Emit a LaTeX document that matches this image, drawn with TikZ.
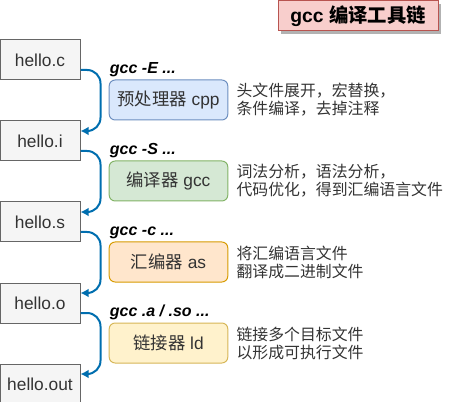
\documentclass[tikz,border=0pt]{standalone}
\usepackage{fontspec}
\setmainfont{Liberation Sans}
\newfontfamily\cjk{Noto Sans CJK SC}
\usetikzlibrary{positioning,arrows.meta,shadows}

\definecolor{filebg}{HTML}{F5F5F5}
\definecolor{fileline}{HTML}{666666}
\definecolor{filetext}{HTML}{333333}
\definecolor{flowblue}{HTML}{006EAF}
\definecolor{cppbg}{HTML}{DAE8FC}
\definecolor{cppline}{HTML}{6C8EBF}
\definecolor{ccbg}{HTML}{D5E8D4}
\definecolor{ccline}{HTML}{82B366}
\definecolor{asbg}{HTML}{FFE6CC}
\definecolor{asline}{HTML}{D79B00}
\definecolor{ldbg}{HTML}{FFF2CC}
\definecolor{ldline}{HTML}{D6B656}
\definecolor{titlebg}{HTML}{F8CECC}
\definecolor{titleline}{HTML}{B85450}

\tikzset{
  file/.style={draw=fileline, fill=filebg, text=filetext, line width=0.75pt,
    minimum width=60pt, minimum height=30pt, inner sep=0pt,
    font=\fontsize{13}{15}\selectfont},
  tool/.style={rounded corners=4.5pt, line width=0.75pt, minimum width=89pt,
    minimum height=30pt, inner sep=0pt, text=black!80,
    font=\fontsize{13}{15}\selectfont},
  cmd/.style={anchor=base west, inner sep=0pt,
    font=\bfseries\itshape\fontsize{12}{14}\selectfont},
  note/.style={anchor=west, align=left, inner sep=0pt, text=black!80,
    font=\cjk\fontsize{11.9}{13.5}\selectfont},
  flow/.style={draw=flowblue, line width=1.5pt, rounded corners=10pt,
    -{Latex[length=6pt,width=6.5pt]}},
}

\begin{document}
\begin{tikzpicture}[x=0.75pt, y=-0.75pt]
    \useasboundingbox (0, 0) rectangle (456, 402);

    \node[draw=titleline, fill=titlebg, line width=0.75pt, minimum width=120pt,
      minimum height=22.5pt, inner sep=0pt,
      drop shadow={shadow xshift=2.2pt, shadow yshift=-2.2pt, fill=black!30, opacity=1},
      font=\bfseries\fontsize{14.5}{16}\selectfont] (title) at (358, 16) {gcc {\cjk\bfseries 编译工具链}};

    \node[file] (helloc) at (40, 60) {hello.c};
    \node[file, below=30pt of helloc] (helloi) {hello.i};
    \node[file, below=30pt of helloi] (hellos) {hello.s};
    \node[file, below=30pt of hellos] (helloo) {hello.o};
    \node[file, below=30pt of helloo] (helloout) {hello.out};

    \node[tool, draw=cppline, fill=cppbg] (cpp) at (168.5, 100) {{\cjk 预处理器} cpp};
    \node[tool, draw=ccline, fill=ccbg, below=30pt of cpp] (cc) {{\cjk 编译器} gcc};
    \node[tool, draw=asline, fill=asbg, below=30pt of cc] (as) {{\cjk 汇编器} as};
    \node[tool, draw=ldline, fill=ldbg, below=30pt of as] (ld) {{\cjk 链接器} ld};

    \node[cmd] (cmdcpp) at ([xshift=0.75pt, yshift=4.5pt]cpp.north west) {gcc -E ...};
    \node[cmd] (cmdcc) at ([xshift=0.75pt, yshift=4.5pt]cc.north west) {gcc -S ...};
    \node[cmd] (cmdas) at ([xshift=0.75pt, yshift=4.5pt]as.north west) {gcc -c ...};
    \node[cmd] (cmdld) at ([xshift=0.75pt, yshift=4.5pt]ld.north west) {gcc .a / .so ...};

    \node[note, right=6pt of cpp] (notecpp) {头文件展开，宏替换，\\条件编译，去掉注释};
    \node[note, right=6pt of cc] (notecc) {词法分析，语法分析，\\代码优化，得到汇编语言文件};
    \node[note, right=6pt of as] (noteas) {将汇编语言文件\\翻译成二进制文件};
    \node[note, right=6pt of ld] (noteld) {链接多个目标文件\\以形成可执行文件};

    \draw[flow] ([yshift=-7.5pt]helloc.east) -| ([xshift=15pt, yshift=7.5pt]helloi.east) -- ([yshift=7.5pt]helloi.east);
    \draw[flow] ([yshift=-7.5pt]helloi.east) -| ([xshift=15pt, yshift=7.5pt]hellos.east) -- ([yshift=7.5pt]hellos.east);
    \draw[flow] ([yshift=-7.5pt]hellos.east) -| ([xshift=15pt, yshift=7.5pt]helloo.east) -- ([yshift=7.5pt]helloo.east);
    \draw[flow] ([yshift=-7.5pt]helloo.east) -| ([xshift=15pt, yshift=7.5pt]helloout.east) -- ([yshift=7.5pt]helloout.east);
\end{tikzpicture}
\end{document}
